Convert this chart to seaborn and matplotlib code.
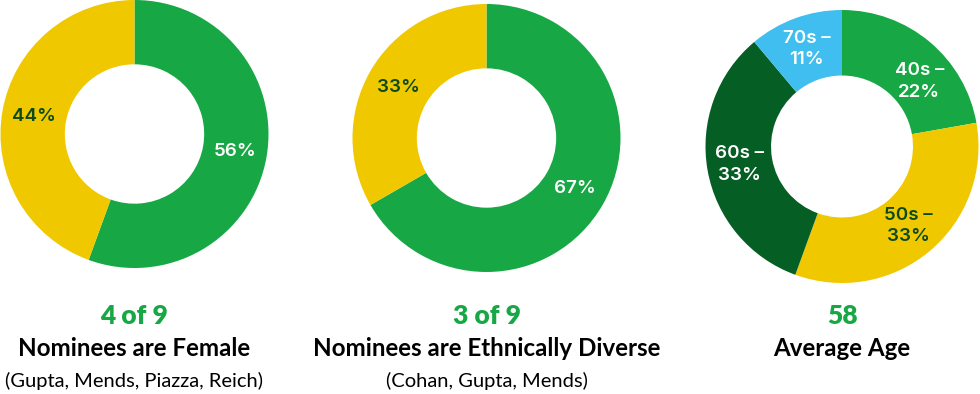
import numpy as np
import matplotlib
matplotlib.use("Agg")
import matplotlib.pyplot as plt
import seaborn as sns

sns.set_theme(style="white")
plt.rcParams["font.family"] = ["Lato", "DejaVu Sans"]

# Datos
gender_counts = [5, 4]              # verde = hombres, amarillo = mujeres
diversity_counts = [6, 3]
age_groups = ["40s", "50s", "60s", "70s"]
age_counts = [2, 3, 3, 1]

headlines = ["4 of 9", "3 of 9", "58"]
subtitles = ["Nominees are Female", "Nominees are Ethnically Diverse", "Average Age"]
notes = ["(Gupta, Mends, Piazza, Reich)", "(Cohan, Gupta, Mends)", ""]

GREEN = "#17a845"
YELLOW = "#f0c800"
DARK = "#055e23"
BLUE = "#40bef0"
LABEL_DARK = "#0c4a1c"

W, H = 980, 394
fig = plt.figure(figsize=(W / 100, H / 100), dpi=100)

# cajas de cada dona en pixeles (x0, y_top, x1, y_bottom)
boxes = [(0, 0, 269, 268), (352, 4, 621, 272), (705, 10, 979, 283)]


def donut(box, counts, colors, labels, label_colors):
    x0, yt, x1, yb = box
    ax = fig.add_axes([x0 / W, 1 - yb / H, (x1 - x0) / W, (yb - yt) / H])
    wedges, texts = ax.pie(
        counts, colors=colors, labels=labels, startangle=90, counterclock=False,
        labeldistance=0.76, radius=1,
        wedgeprops=dict(width=0.48, linewidth=0),
        textprops=dict(ha="center", va="center", fontsize=13.5,
                       fontweight="semibold", family=["Inter", "DejaVu Sans"],
                       linespacing=1.35),
    )
    for t, c in zip(texts, label_colors):
        t.set_color(c)
        t.set_ha("center")
        t.set_va("center")
    ax.set_xlim(-1, 1)
    ax.set_ylim(-1, 1)
    ax.axis("off")
    return ax, texts


pct = lambda c: [f"{round(100 * v / sum(c))}%" for v in c]

donut(boxes[0], gender_counts, [GREEN, YELLOW], pct(gender_counts), ["white", LABEL_DARK])
donut(boxes[1], diversity_counts, [GREEN, YELLOW], pct(diversity_counts), ["white", LABEL_DARK])
age_labels = [f"{g} \u2013\n{p}" for g, p in zip(age_groups, pct(age_counts))]
ax3, texts3 = donut(boxes[2], age_counts, [GREEN, YELLOW, DARK, BLUE], age_labels,
                    ["white", LABEL_DARK, "white", "white"])
# la etiqueta de 40s esta un poco girada en el original
a = np.radians(90 - 50)
texts3[0].set_position((0.74 * np.cos(a), 0.74 * np.sin(a)))

# textos de abajo
centers = [(b[0] + b[2]) / 2 for b in boxes]
centers[0] = 134
for cx, h, s, n in zip(centers, headlines, subtitles, notes):
    fig.text(cx / W, 1 - 316 / H, h, ha="center", va="center", color=GREEN,
             fontsize=19, fontweight="heavy")
    fig.text(cx / W, 1 - 349 / H, s, ha="center", va="center", color="black",
             fontsize=17.4, fontweight="bold")
    if n:
        fig.text(cx / W, 1 - 381 / H, n, ha="center", va="center", color="black",
                 fontsize=14.5)

fig.savefig("out.png", dpi=100, facecolor="white")
